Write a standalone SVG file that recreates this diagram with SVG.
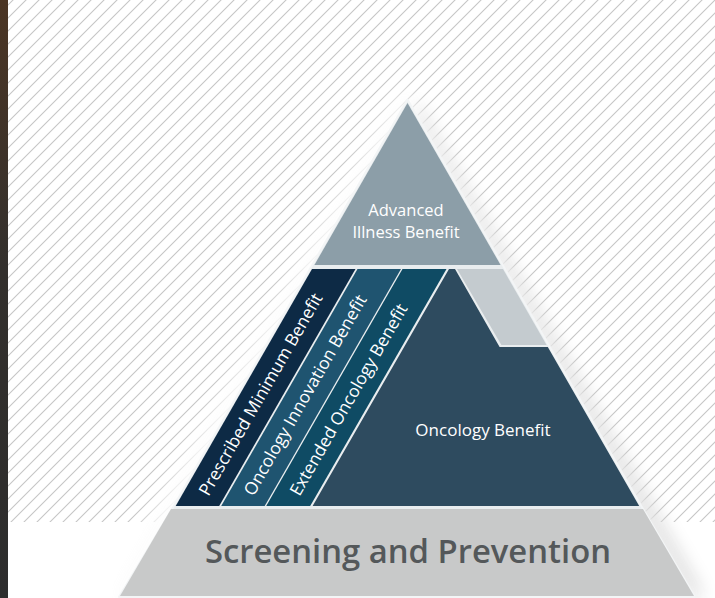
<svg xmlns="http://www.w3.org/2000/svg" width="715" height="598" viewBox="0 0 715 598">
  <defs>
    <pattern id="hatch" patternUnits="userSpaceOnUse" width="13" height="13">
      <path d="M-1,1 L1,-1 M0,13 L13,0 M12,14 L14,12" stroke="#c6c6c6" stroke-width="1.1" fill="none"/>
    </pattern>
    <linearGradient id="strip" x1="0" y1="0" x2="0" y2="1">
      <stop offset="0" stop-color="#4b3524"/>
      <stop offset="0.45" stop-color="#33302d"/>
      <stop offset="1" stop-color="#2d2d2d"/>
    </linearGradient>
    <filter id="glow" x="-20%" y="-20%" width="140%" height="140%">
      <feGaussianBlur stdDeviation="9"/>
    </filter>
    <filter id="shade" x="-20%" y="-20%" width="140%" height="140%">
      <feGaussianBlur stdDeviation="10"/>
    </filter>
    <style>
      .lbl { font-family: "Open Sans", "DejaVu Sans", sans-serif; fill: #ffffff; font-weight: 500; }
      .rot { font-size: 17.3px; }
      .big { font-family: "Open Sans", "DejaVu Sans", sans-serif; fill: #54585a; font-weight: 600; font-size: 32.8px; }
    </style>
  </defs>

  <!-- background -->
  <rect x="0" y="0" width="715" height="598" fill="#ffffff"/>
  <rect x="0" y="0" width="8" height="598" fill="url(#strip)"/>

  <!-- shadow under hatch -->
  <polygon points="414,104 650,508 702,598 126,598 178,508" fill="#000" opacity="0.2" filter="url(#shade)"/>
  <rect x="8" y="0" width="707" height="522" fill="url(#hatch)"/>
  <!-- white glow near edges -->
  <polygon points="404,96 636,505 690,598 112,598 165,505" fill="#fff" stroke="#fff" stroke-width="10" opacity="0.95" filter="url(#glow)"/>

  <!-- pyramid backing / outline -->
  <polygon points="407.5,99.5 642.7,508.5 695,597 119,597 172.3,508.5" fill="#e9edef" stroke="#f3f5f6" stroke-width="2" stroke-linejoin="round"/>

  <g id="advanced-illness">
    <polygon points="407.5,103 500.6,265 314.4,265" fill="#8c9ea8"/>
    <text class="lbl" x="406" y="215.5" text-anchor="middle" font-size="16.5">Advanced</text>
    <text class="lbl" x="406" y="237.5" text-anchor="middle" font-size="16.5">Illness Benefit</text>
  </g>

  <g id="prescribed-minimum">
    <polygon points="312,269 355.5,269 219.2,506 175.7,506" fill="#0d2a45"/>
    <text class="lbl rot" transform="translate(208.5,497) rotate(-60.1)">Prescribed Minimum Benefit</text>
  </g>

  <g id="oncology-innovation">
    <polygon points="357.5,269 401,269 264.7,506 221.2,506" fill="#1f5470"/>
    <text class="lbl rot" transform="translate(253.5,497) rotate(-60.1)">Oncology Innovation Benefit</text>
  </g>

  <g id="extended-oncology">
    <polygon points="402.5,269 446.5,269 310.2,506 266.2,506" fill="#0f4b64"/>
    <text class="lbl rot" transform="translate(299.5,497) rotate(-60.1)">Extended Oncology Benefit</text>
  </g>

  <g id="notch">
    <polygon points="457,269 503,269 546.6,345 501.4,345" fill="#c4cbcf"/>
  </g>

  <g id="oncology">
    <polygon points="449,269 455,269 499.6,347 547.8,347 639.2,506 312.6,506" fill="#2e4b5f"/>
    <text class="lbl" x="483" y="436" text-anchor="middle" font-size="17">Oncology Benefit</text>
  </g>

  <g id="screening">
    <polygon points="171,509 643,509 694,596 120,596" fill="#c8c9c9"/>
    <text class="big" x="408" y="563" text-anchor="middle">Screening and Prevention</text>
  </g>
</svg>
